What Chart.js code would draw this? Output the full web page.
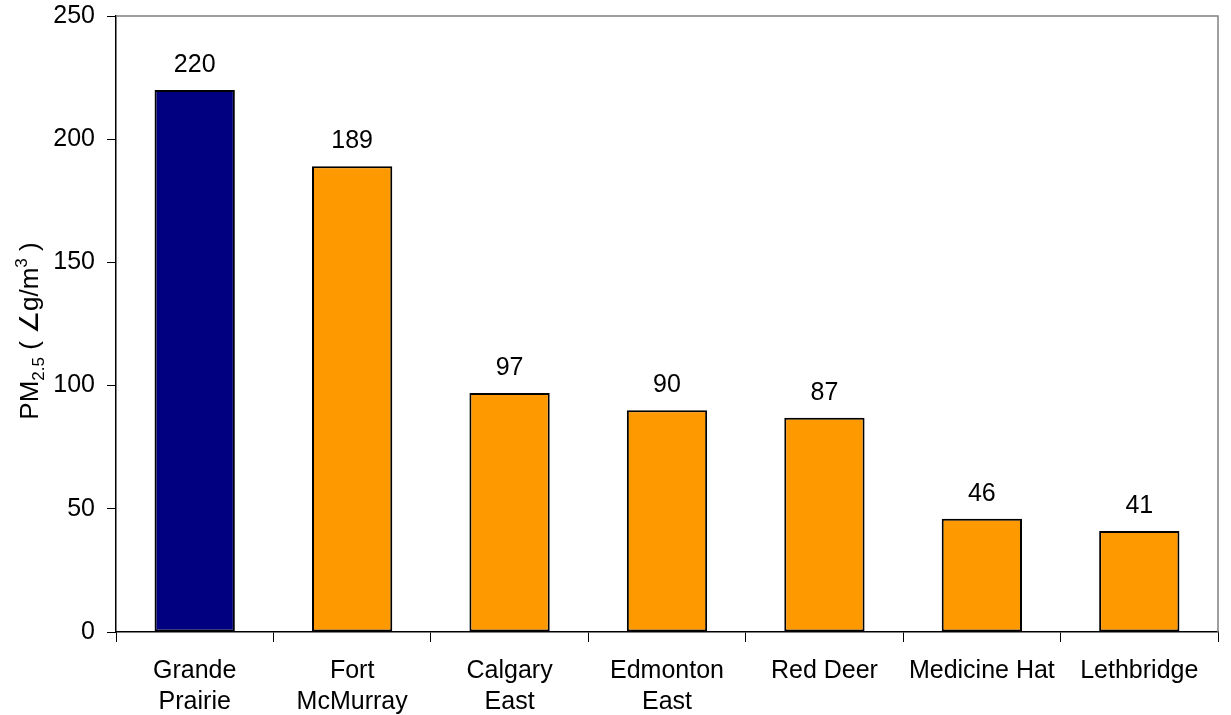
<!DOCTYPE html>
<html>
<head>
<meta charset="utf-8">
<script src="https://cdn.jsdelivr.net/npm/chart.js@4"></script>
<style>
  html, body { margin: 0; padding: 0; background: #fff; }
  #wrap { width: 1231px; height: 715px; }
</style>
</head>
<body>
<div id="wrap"><canvas id="pm-chart" width="1231" height="715"></canvas></div>
<script>
// PM2.5 peak readings by station
const STATIONS = [
  ["Grande", "Prairie"],
  ["Fort", "McMurray"],
  ["Calgary", "East"],
  ["Edmonton", "East"],
  "Red Deer",
  "Medicine Hat",
  "Lethbridge",
];
const PM25 = [220, 189, 97, 90, 87, 46, 41];
const BAR_COLORS = ["#000080", "#FF9900", "#FF9900", "#FF9900", "#FF9900", "#FF9900", "#FF9900"];
const Y_TICKS = [0, 50, 100, 150, 200, 250];

const FONT = "Liberation Sans, Arial, sans-serif";

// ── plugins ──────────────────────────────────────────────────────
// gray frame on top and right of the plot area
const frame = {
  id: "frame",
  beforeDatasetsDraw(chart) {
    const { ctx, chartArea: a } = chart;
    ctx.save();
    ctx.strokeStyle = "#808080";
    ctx.lineWidth = 1.5;
    ctx.beginPath();
    ctx.moveTo(a.left, a.top);
    ctx.lineTo(a.right, a.top);
    ctx.lineTo(a.right, a.bottom);
    ctx.stroke();
    ctx.restore();
  },
};

// value above each bar
const valueLabels = {
  id: "valueLabels",
  afterDatasetsDraw(chart) {
    const { ctx } = chart;
    const meta = chart.getDatasetMeta(0);
    ctx.save();
    ctx.font = `25px ${FONT}`;
    ctx.fillStyle = "#000";
    ctx.textAlign = "center";
    ctx.textBaseline = "alphabetic";
    meta.data.forEach((bar, i) => {
      ctx.fillText(String(PM25[i]), bar.x, bar.y - 18);
    });
    ctx.restore();
  },
};

// rotated y title with sub/superscript
const yTitle = {
  id: "yTitle",
  afterDraw(chart) {
    const { ctx } = chart;
    const parts = [
      { t: "PM", size: 26, dy: 0 },
      { t: "2.5", size: 17, dy: 6 },
      { t: " ( \u2220g/m", size: 26, dy: 0 },
      { t: "3", size: 17, dy: -11 },
      { t: " )", size: 26, dy: 0 },
    ];
    ctx.save();
    let total = 0;
    parts.forEach((p) => {
      ctx.font = `${p.size}px ${FONT}`;
      p.w = ctx.measureText(p.t).width;
      total += p.w;
    });
    ctx.translate(38, 331);
    ctx.rotate(-Math.PI / 2);
    ctx.fillStyle = "#000";
    ctx.textBaseline = "alphabetic";
    ctx.textAlign = "left";
    let x = -total / 2;
    parts.forEach((p) => {
      ctx.font = `${p.size}px ${FONT}`;
      ctx.fillText(p.t, x, p.dy);
      x += p.w;
    });
    ctx.restore();
  },
};

new Chart(document.getElementById("pm-chart"), {
  type: "bar",
  data: {
    labels: STATIONS,
    datasets: [{
      data: PM25,
      backgroundColor: BAR_COLORS,
      borderColor: "#000",
      borderWidth: 2,
      borderSkipped: false,
      categoryPercentage: 1,
      barPercentage: 0.51,
    }],
  },
  options: {
    responsive: false,
    animation: false,
    layout: { padding: { top: 16, right: 13, left: 0, bottom: 0 } },
    plugins: {
      legend: { display: false },
      tooltip: { enabled: false },
    },
    scales: {
      x: {
        afterFit: (s) => { s.height = 83; s.paddingLeft = 0; s.paddingRight = 0; },
        grid: {
          offset: true,
          drawOnChartArea: false,
          drawTicks: true,
          tickLength: 10,
          color: "#000",
        },
        border: { color: "#000", width: 1.5 },
        ticks: {
          color: "#000",
          padding: 13,
          font: { family: FONT, size: 25, lineHeight: 1.26 },
          maxRotation: 0,
          autoSkip: false,
        },
      },
      y: {
        min: 0,
        max: 250,
        afterFit: (s) => { s.width = 116; s.paddingTop = 0; s.paddingBottom = 0; },
        afterBuildTicks: (s) => { s.ticks = Y_TICKS.map((v) => ({ value: v })); },
        grid: {
          drawOnChartArea: false,
          drawTicks: true,
          tickLength: 9,
          color: "#000",
        },
        border: { color: "#000", width: 1.5 },
        ticks: {
          color: "#000",
          padding: 12,
          font: { family: FONT, size: 25 },
        },
      },
    },
  },
  plugins: [frame, valueLabels, yTitle],
});
</script>
</body>
</html>
